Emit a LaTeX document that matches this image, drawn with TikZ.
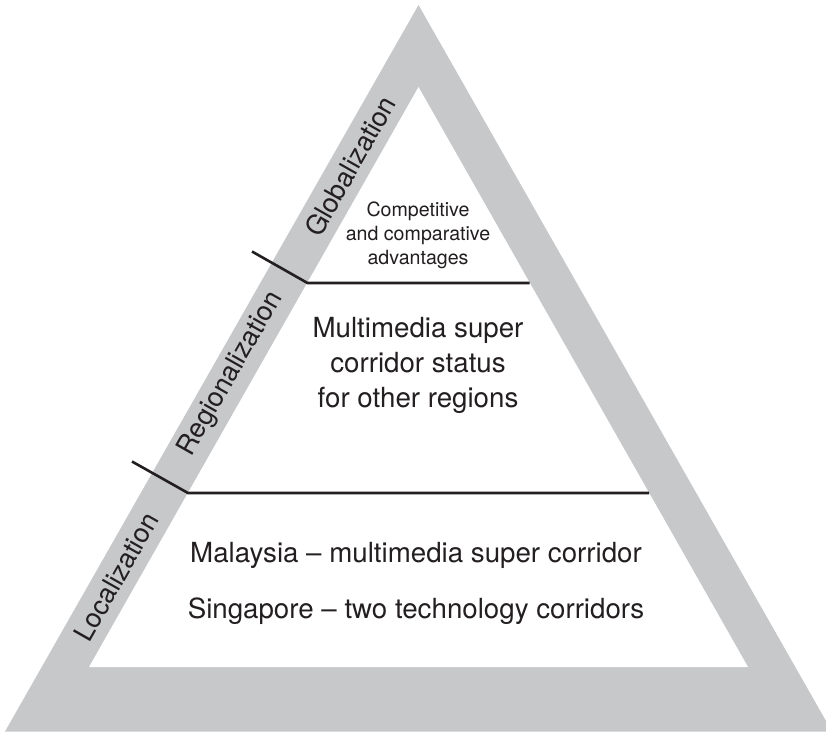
\documentclass[tikz,border=0pt]{standalone}
\usepackage{fontspec}
\setmainfont{TeX Gyre Heros}
\definecolor{bandgray}{RGB}{199,200,202}
\definecolor{inkdark}{RGB}{35,31,32}
\begin{document}
\begin{tikzpicture}[x=1pt,y=-1pt,
  divider/.style={draw=inkdark,line width=2.6pt,line join=miter},
  bandlabel/.style={text=inkdark,rotate=60.4,anchor=center,inner sep=0pt,font=\fontsize{27}{32}\selectfont},
  bigtext/.style={text=inkdark,anchor=base,inner sep=0pt,font=\fontsize{27.7}{35}\selectfont},
  smalltext/.style={text=inkdark,anchor=base,inner sep=0pt,font=\fontsize{19.6}{24}\selectfont}]
\useasboundingbox (0,0) rectangle (826,733);
\begin{scope}
\clip (0,0) rectangle (826,733);
\coordinate (OA) at (418.5,5);
\coordinate (OL) at (5,731.5);
\coordinate (OR) at (832,731.5);
\fill[bandgray] (OA) -- (OL) -- (OR) -- cycle;
\coordinate (IA) at (418.5,87);
\coordinate (IL) at (89,667);
\coordinate (IR) at (748,667);
\fill[white] (IA) -- (IL) -- (IR) -- cycle;
\end{scope}
% upper divider
\coordinate (u0) at (252,251.5);
\coordinate (u1) at (307.5,283);
\coordinate (u2) at (529.5,283);
\draw[divider] (u0) -- (u1) -- (u2);
% lower divider
\coordinate (d0) at (132,461.5);
\coordinate (d1) at (188,493);
\coordinate (d2) at (649,493);
\draw[divider] (d0) -- (d1) -- (d2);
% band labels
\node[bandlabel] (glob) at (350,166) {Globalization};
\node[bandlabel] (reg) at (231,374) {Regionalization};
\node[bandlabel] (loc) at (116,577) {Localization};
% top text
\node[smalltext] (t1) at (418,216) {Competitive};
\node[smalltext] (t2) at (418,240.5) {and comparative};
\node[smalltext] (t3) at (418,264) {advantages};
% middle text
\node[bigtext] (m1) at (418,337) {Multimedia super};
\node[bigtext] (m2) at (418,372) {corridor status};
\node[bigtext] (m3) at (418,407) {for other regions};
% bottom text
\node[bigtext] (b1) at (416,562) {Malaysia – multimedia super corridor};
\node[bigtext] (b2) at (416,618) {Singapore – two technology corridors};
\end{tikzpicture}
\end{document}
